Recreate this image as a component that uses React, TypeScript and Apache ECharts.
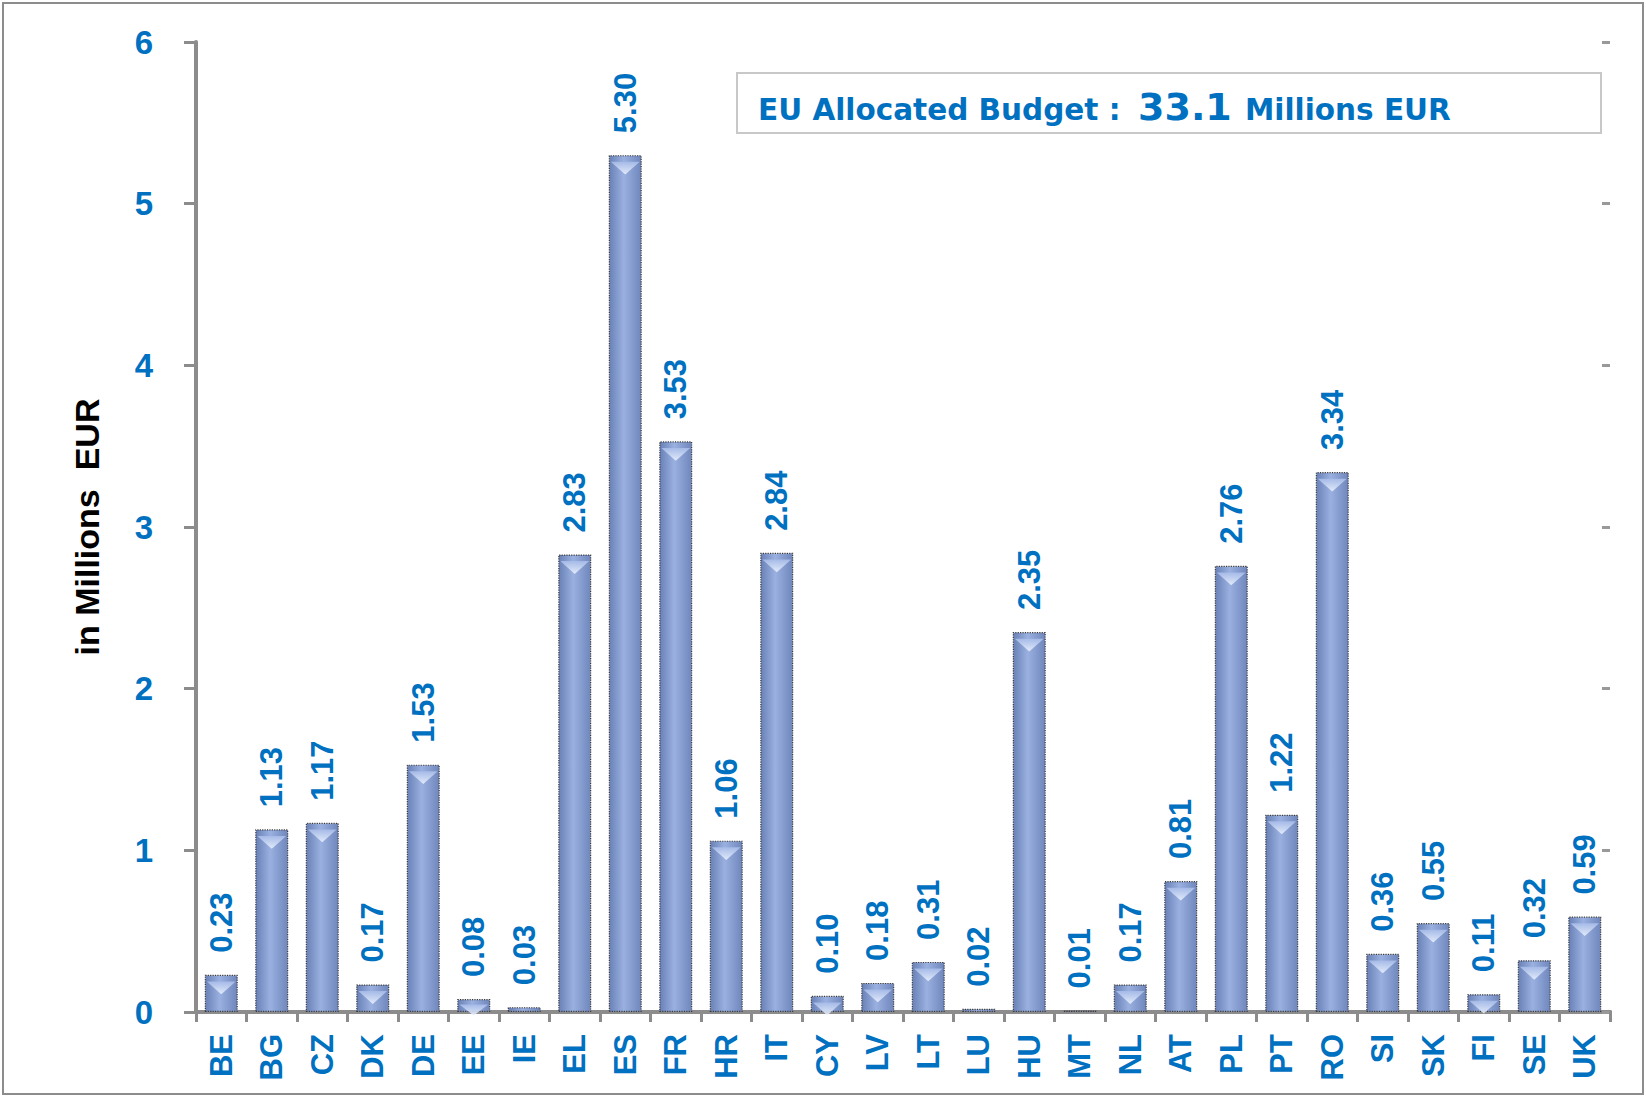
import React, { useEffect, useRef } from "react";
import * as echarts from "echarts";

const categories = ["BE","BG","CZ","DK","DE","EE","IE","EL","ES","FR","HR","IT","CY","LV","LT","LU","HU","MT","NL","AT","PL","PT","RO","SI","SK","FI","SE","UK"];
const values = [0.23,1.13,1.17,0.17,1.53,0.08,0.03,2.83,5.30,3.53,1.06,2.84,0.10,0.18,0.31,0.02,2.35,0.01,0.17,0.81,2.76,1.22,3.34,0.36,0.55,0.11,0.32,0.59];
const yTicks = { min: 0, max: 6, interval: 1 };
const budgetPrefix = "EU Allocated Budget : ";
const budgetValue = "33.1";
const budgetSuffix = "Millions EUR";
const yName = "in Millions  EUR";

const BLUE = "#0070C0";
const GREY = "#8C8C8C";
const FONT = "'Liberation Sans', Arial, sans-serif";
const LEG_FONT = "'DejaVu Sans', Verdana, sans-serif";
const PX_PER_UNIT = 161.7;

export default function App() {
  const ref = useRef<HTMLDivElement>(null);
  useEffect(() => {
    document.body.style.margin = "0";
    const chart = echarts.init(ref.current!, null, { renderer: "svg" });
    const bevelData = values.map((v) => {
      const h = Math.min(13, v * PX_PER_UNIT - 2);
      return h > 3 ? { value: v, symbolSize: [29, h] } : { value: v, symbolSize: [0, 0] };
    });
    chart.setOption({
      animation: false,
      backgroundColor: "#ffffff",
      grid: { left: 196, right: 36, top: 42, bottom: 84, containLabel: false },
      xAxis: [
        {
          type: "category",
          data: categories,
          position: "bottom",
          axisLine: { show: true, lineStyle: { color: GREY, width: 4 } },
          axisTick: { show: true, length: 10, interval: 0, lineStyle: { color: GREY, width: 3 } },
          axisLabel: {
            interval: 0, rotate: 90, margin: 22, color: BLUE,
            fontSize: 31, fontWeight: "bold", fontFamily: FONT,
          },
          splitLine: { show: false },
        },
        {
          type: "category",
          data: categories,
          position: "top",
          axisLine: { show: true, lineStyle: { color: GREY, width: 4 } },
          axisTick: { show: false },
          axisLabel: { show: false },
          splitLine: { show: false },
        },
      ],
      yAxis: [
        {
          type: "value",
          min: yTicks.min, max: yTicks.max, interval: yTicks.interval,
          position: "left",
          name: yName,
          nameLocation: "middle",
          nameRotate: 90,
          nameGap: 92,
          nameTextStyle: { color: "#000", fontSize: 34, fontWeight: "bold", fontFamily: FONT },
          axisLine: { show: true, lineStyle: { color: GREY, width: 4 } },
          axisTick: { show: true, inside: false, length: 12, lineStyle: { color: GREY, width: 3 } },
          axisLabel: { margin: 43, color: BLUE, fontSize: 33, fontWeight: "bold", fontFamily: FONT },
          splitLine: { show: false },
        },
        {
          type: "value",
          min: yTicks.min, max: yTicks.max, interval: yTicks.interval,
          position: "right",
          axisLine: { show: false },
          axisTick: { show: true, inside: true, length: 8, lineStyle: { color: "#999", width: 3 } },
          axisLabel: { show: false },
          splitLine: { show: false },
        },
      ],
      series: [
        {
          type: "bar",
          data: values,
          barWidth: 33,
          barGap: "-100%",
          itemStyle: {
            color: new echarts.graphic.LinearGradient(0, 0, 1, 0, [
              { offset: 0, color: "#6981B7" },
              { offset: 0.45, color: "#9AB0E0" },
              { offset: 1, color: "#7087BD" },
            ]),
            borderColor: "#3a3a3a",
            borderWidth: 1.2,
            borderType: "dotted",
          },
          label: {
            show: true,
            position: "top",
            rotate: 90,
            align: "left",
            verticalAlign: "middle",
            distance: 22,
            formatter: (p: any) => Number(p.value).toFixed(2),
            color: BLUE,
            fontSize: 31,
            fontWeight: "bold",
            fontFamily: FONT,
          },
        },
        {
          type: "pictorialBar",
          data: bevelData,
          symbol: "triangle",
          symbolRotate: 180,
          symbolPosition: "end",
          symbolOffset: [0, "50%"],
          barGap: "-100%",
          z: 3,
          silent: true,
          itemStyle: {
            color: new echarts.graphic.LinearGradient(0, 0, 0, 1, [
              { offset: 0, color: "#EAF1FD" },
              { offset: 1, color: "#A7BCE9" },
            ]),
            opacity: 0.9,
          },
        },
      ],
      graphic: [
        {
          type: "rect",
          shape: { x: 3, y: 3, width: 1640, height: 1091 },
          style: { fill: "none", stroke: GREY, lineWidth: 2 },
          silent: true,
        },
        {
          type: "rect",
          shape: { x: 737, y: 73, width: 864, height: 60 },
          style: { fill: "#fff", stroke: "#C8C8C8", lineWidth: 2 },
          silent: true,
        },
        {
          type: "text",
          x: 758, y: 109.6,
          style: { text: budgetPrefix, fill: BLUE, font: `bold 29.5px ${LEG_FONT}`, verticalAlign: "middle", align: "left" },
          silent: true,
        },
        {
          type: "text",
          x: 1138, y: 106.5,
          style: { text: budgetValue, fill: BLUE, font: `bold 38px ${LEG_FONT}`, verticalAlign: "middle", align: "left" },
          silent: true,
        },
        {
          type: "text",
          x: 1245, y: 109.6,
          style: { text: budgetSuffix, fill: BLUE, font: `bold 29.5px ${LEG_FONT}`, verticalAlign: "middle", align: "left" },
          silent: true,
        },
      ],
    });
    return () => chart.dispose();
  }, []);
  return <div ref={ref} style={{ width: 1646, height: 1096 }} />;
}
